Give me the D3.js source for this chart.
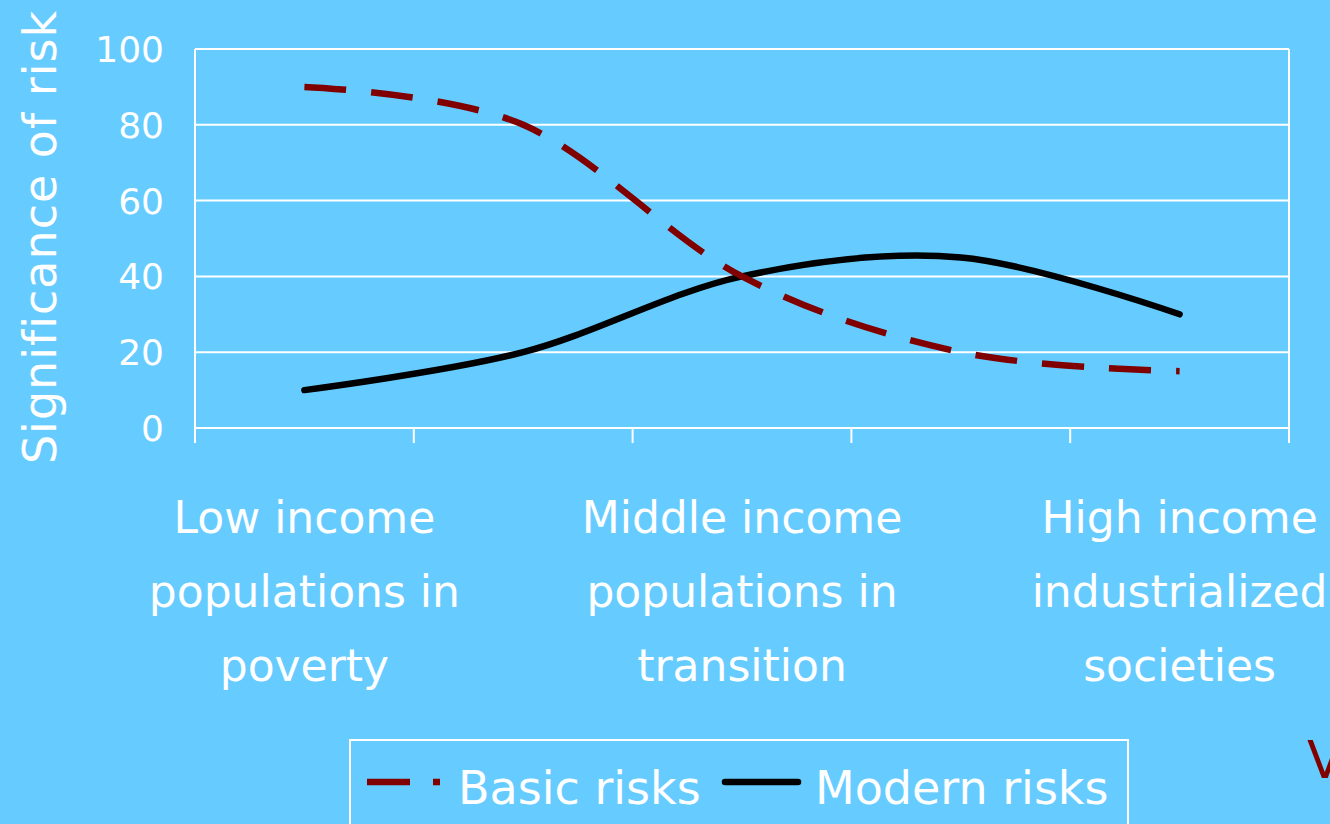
<!DOCTYPE html>
<html>
<head>
<script src="https://d3js.org/d3.v7.min.js"></script>
<style>
  body { margin: 0; background: #66ccff; overflow: hidden; }
  svg { display: block; }
  text { font-family: "Comic Sans MS", "DejaVu Sans", sans-serif; fill: #fff; }
</style>
</head>
<body>
<svg id="chart"></svg>
<script>
// data
const categories = [
  ['Low income', 'populations in', 'poverty'],
  [],
  ['Middle income', 'populations in', 'transition'],
  [],
  ['High income', 'industrialized', 'societies']
];
const basicRisks = [90, 80, 40, 20, 15];
const modernRisks = [10, 20, 40, 45, 30];
const yTicks = [0, 20, 40, 60, 80, 100];
const seriesNames = ['Basic risks', 'Modern risks'];

const width = 1330, height = 824;
const svg = d3.select('#chart').attr('width', width).attr('height', height);

svg.append('rect').attr('width', width).attr('height', height).attr('fill', '#66ccff');

let x = d3.scaleBand().domain(d3.range(categories.length)).range([195, 1289]).padding(0);
let y = d3.scaleLinear().domain([0, 100]).range([428, 49]);

// gridlines
svg.append('g')
  .selectAll('line')
  .data(yTicks)
  .join('line')
  .attr('x1', x.range()[0]).attr('x2', x.range()[1])
  .attr('y1', d => y(d)).attr('y2', d => y(d))
  .attr('stroke', '#fff').attr('stroke-width', 2);

// category boundaries / ticks
let bounds = d3.range(categories.length + 1).map(i => x.range()[0] + i * x.step());
svg.append('g')
  .selectAll('line')
  .data(bounds)
  .join('line')
  .attr('x1', d => d).attr('x2', d => d)
  .attr('y1', (d, i) => (i === 0 || i === bounds.length - 1) ? y(100) : y(0))
  .attr('y2', y(0) + 15)
  .attr('stroke', '#fff').attr('stroke-width', 2);

// y labels
svg.append('g')
  .selectAll('text')
  .data(yTicks)
  .join('text')
  .attr('x', 164)
  .attr('y', d => y(d) + 13)
  .attr('text-anchor', 'end')
  .attr('font-size', 36)
  .text(d => d);

// y title
svg.append('text')
  .attr('transform', 'translate(56,237) rotate(-90)')
  .attr('text-anchor', 'middle')
  .attr('font-size', 46)
  .attr('letter-spacing', 1)
  .text('Significance of risk');

// x labels
let xl = svg.append('g')
  .selectAll('text')
  .data(categories)
  .join('text')
  .attr('text-anchor', 'middle')
  .attr('font-size', 44);
xl.selectAll('tspan')
  .data((d, i) => d.map(s => ({s, i})))
  .join('tspan')
  .attr('x', d => x(d.i) + x.bandwidth() / 2)
  .attr('y', (d, j) => 533 + j * 74)
  .text(d => d.s);

// lines
let line = d3.line()
  .x((d, i) => x(i) + x.bandwidth() / 2)
  .y(d => y(d))
  .curve(d3.curveCardinal.tension(0));

svg.append('path')
  .datum(modernRisks)
  .attr('d', line)
  .attr('fill', 'none')
  .attr('stroke', '#000')
  .attr('stroke-width', 6.5)
  .attr('stroke-linecap', 'round');

svg.append('path')
  .datum(basicRisks)
  .attr('d', line)
  .attr('fill', 'none')
  .attr('stroke', '#800000')
  .attr('stroke-width', 6.5)
  .attr('stroke-dasharray', '42,25');

// legend
let legend = svg.append('g');
legend.append('rect')
  .attr('x', 350).attr('y', 740)
  .attr('width', 778).attr('height', 120)
  .attr('fill', 'none').attr('stroke', '#fff').attr('stroke-width', 2);
legend.append('line')
  .attr('x1', 367).attr('x2', 440).attr('y1', 782).attr('y2', 782)
  .attr('stroke', '#800000').attr('stroke-width', 6.5)
  .attr('stroke-dasharray', '43,23');
legend.append('text')
  .attr('x', 458).attr('y', 804)
  .attr('font-size', 46)
  .text(seriesNames[0]);
legend.append('line')
  .attr('x1', 725).attr('x2', 798).attr('y1', 782).attr('y2', 782)
  .attr('stroke', '#000').attr('stroke-width', 6.5)
  .attr('stroke-linecap', 'round');
legend.append('text')
  .attr('x', 815).attr('y', 804)
  .attr('font-size', 46)
  .text(seriesNames[1]);

// text running off the right edge, as in the original
svg.append('text')
  .attr('x', 1307).attr('y', 778)
  .attr('font-size', 52)
  .style('fill', '#800000')
  .text('V');
</script>
</body>
</html>
